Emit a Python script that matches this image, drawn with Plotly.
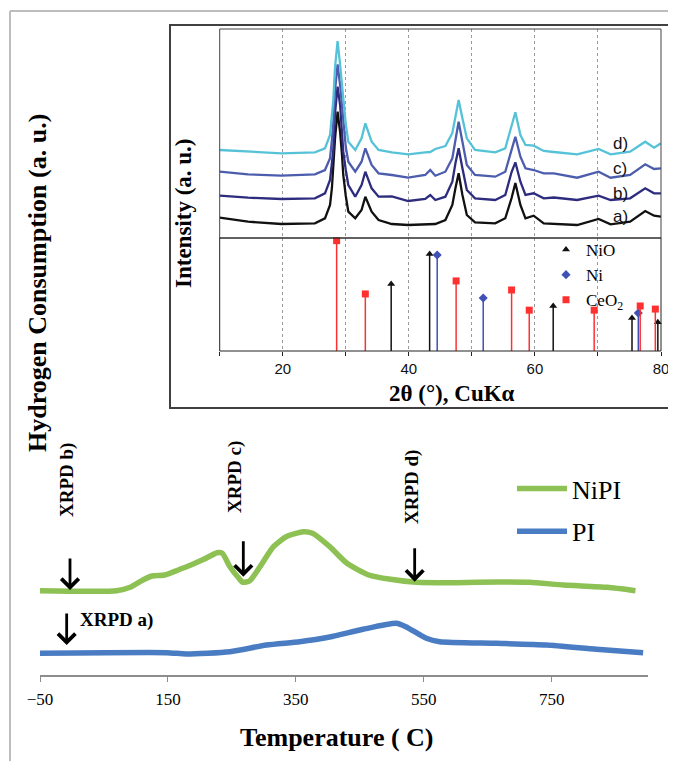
import plotly.graph_objects as go

# ---- main TPR curves (temperature in C, H2 consumption a.u.)
temp_nipi = [-50, 70, 91, 111, 125, 145, 166, 186, 206, 227, 235, 247, 261, 267, 278, 294,
             315, 335, 362, 376, 403, 430, 464, 498, 539, 600, 668, 715, 769, 837, 881]
h2_nipi = [84.3, 84.3, 87.7, 95, 99, 100, 105, 110, 115.7, 122.3, 121.7, 108.3, 96.7, 92.7, 94.3, 108.3,
           128.3, 138.3, 143.3, 141.7, 128.3, 111.7, 100, 95.7, 92.7, 92.3, 93, 92.7, 90, 87.7, 84.3]

temp_pi = [-50, 148, 179, 247, 304, 356, 403, 455, 507, 522, 554, 575, 664, 742, 820, 893]
h2_pi = [21.7, 22.3, 21, 23.3, 30, 33.3, 38, 45.7, 51.7, 48.3, 36.7, 33.3, 31.7, 30, 25.7, 22.3]

# ---- XRPD patterns (2theta, stacked intensity)
two_theta = [10, 14.5, 19.8, 25.1, 26.7, 27.5, 27.8, 28.0, 28.3, 28.7,
             29.1, 29.4, 29.6, 30.0, 30.4, 31.5, 32.5, 33.1, 34.1, 35.2,
             37.3, 39.9, 42.6, 43.4, 44.2, 45.8, 46.9, 47.4, 47.9, 48.5,
             49.2, 50.5, 53.7, 55.3, 56.3, 56.9, 57.7, 58.5, 59.8, 61.4,
             63.0, 66.7, 70.1, 72.0, 75.1, 77.5, 78.9, 80]
xrd_a = [20.3, 16.3, 14, 14.7, 19.7, 33, 50, 73, 100, 126.3,
         106, 83, 63, 42, 26.3, 19.7, 28, 41.3, 26.3, 18,
         14, 13, 13.5, 14, 14, 18, 33, 50, 64.7, 43,
         23, 15.7, 14.7, 19.7, 40, 55, 33, 19.7, 22.3, 14.7,
         14, 13, 19, 13.7, 16.3, 27, 22.3, 21.3]
xrd_b = [42.3, 40.3, 39, 39.7, 44.7, 58, 75, 86.3, 125, 151.3,
         133, 108, 86.3, 68, 53, 41.3, 53, 66.3, 49.7, 41.3,
         41.5, 37, 39, 43, 38, 41.3, 56.3, 75, 89.7, 69.7,
         48, 39.7, 38, 43, 66, 75.7, 56.3, 43, 44.7, 39.7,
         40.5, 38, 42.3, 38, 39.7, 49.7, 44.7, 44.7]
xrd_c = [66.3, 63.7, 62.3, 63.7, 68, 79.7, 98, 113, 148, 173.7,
         153, 131, 113, 91, 76.3, 66.3, 76.3, 89.7, 73, 64.7,
         63, 60.3, 63, 68, 62.3, 66.3, 79.7, 98, 116.3, 96.3,
         73, 63, 61.3, 66.3, 89, 101.3, 81.3, 69.7, 68, 64.7,
         64.7, 60.3, 66.3, 60.3, 63, 73.7, 69, 69.7]
xrd_d = [88, 86.3, 84.7, 85.7, 89.7, 103, 121, 136.3, 171, 197,
         173, 154, 136.3, 114, 96.3, 88, 99.7, 114.7, 96.3, 88,
         85.7, 83.7, 85.7, 86, 89, 92, 105, 121, 138, 119.7,
         99.7, 88, 85.7, 89.7, 113, 125.7, 103, 93, 92.3, 87,
         86, 83.7, 89, 83.7, 86.3, 96.3, 90.3, 94.7]
xrd_labels = ["a)", "b)", "c)", "d)"]
xrd_label_y = [21.3, 44.7, 69.7, 94.7]

# ---- reference patterns (2theta, relative intensity)
nio_pos = [37.2, 43.3, 62.9, 75.4, 79.5]
nio_int = [60.7, 88, 40.8, 30, 26]
ni_pos = [44.5, 51.8, 76.4]
ni_int = [87, 48, 34.5]
ceo2_pos = [28.55, 33.1, 47.5, 56.3, 59.1, 69.4, 76.7, 79.1]
ceo2_int = [100, 51.7, 63.5, 55.3, 37, 37, 40.8, 38]

# page has an 8px body margin, so the figure is a bit smaller than the window
OX, OY = 8, 8
W, H = 668, 753


def px(x):
    return (x - OX) / W


def py(y):
    return 1 - (y - OY) / H


SERIF = "Liberation Serif"
SANS = "Liberation Sans"

fig = go.Figure()

fig.add_trace(go.Scatter(x=temp_nipi, y=h2_nipi, mode="lines", name="NiPI",
                         line=dict(color="#8DC153", width=5.5, shape="spline", smoothing=0.6),
                         legendgroup="g1"))
fig.add_trace(go.Scatter(x=temp_pi, y=h2_pi, mode="lines", name="PI",
                         line=dict(color="#4A7CC3", width=5.5, shape="spline", smoothing=0.6),
                         legendgroup="g2"))

xrd_colors = ["#111111", "#2D2C7E", "#4D5DAE", "#55C2D8"]
for ys, col in zip([xrd_a, xrd_b, xrd_c, xrd_d], xrd_colors):
    fig.add_trace(go.Scatter(x=two_theta, y=ys, mode="lines", line=dict(color=col, width=2.3),
                             xaxis="x2", yaxis="y2", showlegend=False))


def sticks(pos, inten):
    xs, ys = [], []
    for p, v in zip(pos, inten):
        xs += [p, p, None]
        ys += [0, v, None]
    return xs, ys


ref_sets = [("NiO", nio_pos, nio_int, "#111111", "triangle-up"),
            ("Ni", ni_pos, ni_int, "#3F51B5", "diamond"),
            ("CeO<sub>2</sub>", ceo2_pos, ceo2_int, "#FF3030", "square")]
for name, pos, inten, col, sym in ref_sets:
    sx, sy = sticks(pos, inten)
    fig.add_trace(go.Scatter(x=sx, y=sy, mode="lines", line=dict(color=col, width=1.5),
                             xaxis="x2", yaxis="y3", showlegend=False, cliponaxis=False))
    fig.add_trace(go.Scatter(x=pos, y=inten, mode="markers", name=name, legend="legend2",
                             marker=dict(color=col, symbol=sym, size=7), cliponaxis=False,
                             xaxis="x2", yaxis="y3"))

annotations = []
# XRPD arrows on main chart
arrows = [(-3.1, 85, -33), (267.9, 98.3, -37), (535.8, 93.3, -35), (-8.3, 30, -33)]
for ax_, ay_, off in arrows:
    annotations.append(dict(x=ax_, y=ay_, xref="x", yref="y", text="", showarrow=True,
                            ax=0, ay=off, arrowhead=4, arrowsize=1.2, arrowwidth=2.8,
                            arrowcolor="#000000"))
rot_labels = [("XRPD b)", -7.8, 195), ("XRPD c)", 254.9, 198), ("XRPD d)", 531.6, 188)]
for t, x_, y_ in rot_labels:
    annotations.append(dict(x=x_, y=y_, xref="x", yref="y", text="<b>%s</b>" % t, showarrow=False,
                            textangle=-90, font=dict(family=SERIF, size=19, color="#000")))
annotations.append(dict(x=69.9, y=55, xref="x", yref="y", text="<b>XRPD a)</b>", showarrow=False,
                        font=dict(family=SERIF, size=19, color="#000")))

# axis titles
titles = [("<b>Temperature ( C)</b>", 337, 737, 0, 26),
          ("<b>Hydrogen Consumption (a. u.)</b>", 37, 283, -90, 26),
          ("<b>Intensity (a. u.)</b>", 184, 213, -90, 23),
          ("<b>2θ (°), CuKα</b>", 452, 393, 0, 23)]
for t, x_, y_, ang, sz in titles:
    annotations.append(dict(x=px(x_), y=py(y_), xref="paper", yref="paper", showarrow=False,
                            xanchor="center", yanchor="middle", textangle=ang, text=t,
                            font=dict(family=SERIF, size=sz, color="#000")))
for lab, yv in zip(xrd_labels, xrd_label_y):
    annotations.append(dict(x=73.5, y=yv, xref="x2", yref="y2", text=lab, showarrow=False,
                            font=dict(family=SANS, size=17, color="#111")))

shapes = [
    dict(type="line", xref="paper", yref="paper", x0=px(10), x1=1, y0=py(11), y1=py(11),
         line=dict(color="#BDBDBD", width=2)),
    dict(type="line", xref="paper", yref="paper", x0=px(10), x1=px(10), y0=py(11), y1=0,
         line=dict(color="#BDBDBD", width=2)),
    dict(type="rect", xref="paper", yref="paper", x0=px(170), x1=px(669), y0=py(408), y1=py(25),
         line=dict(color="#404040", width=2), layer="below"),
    dict(type="rect", xref="x2 domain", yref="y2 domain", x0=0, x1=1, y0=0, y1=1,
         line=dict(color="#444", width=1), layer="above"),
    dict(type="rect", xref="x2 domain", yref="y3 domain", x0=0, x1=1, y0=0, y1=1,
         line=dict(color="#222", width=1), layer="above"),
]

fig.update_layout(
    width=W, height=H,
    margin=dict(l=0, r=0, t=0, b=0, autoexpand=False),
    paper_bgcolor="white", plot_bgcolor="rgba(0,0,0,0)",
    xaxis=dict(domain=[px(40), px(647.6)], range=[-50, 900], tick0=-50, dtick=200,
               showline=True, linecolor="#8C8C8C", linewidth=1.5, ticks="outside", ticklen=5,
               tickcolor="#8C8C8C", showgrid=False, zeroline=False, anchor="y",
               tickfont=dict(family=SERIF, size=17, color="#000"), ticklabelstandoff=3),
    yaxis=dict(domain=[py(675), py(440)], range=[0, 235], visible=False, anchor="x"),
    xaxis2=dict(domain=[px(219.7), px(661)], range=[10, 80], anchor="y3",
                tickvals=[10, 20, 30, 40, 50, 60, 70, 80],
                ticktext=["", "20", "", "40", "", "60", "", "80"],
                showgrid=True, gridcolor="#9A9A9A", griddash="dot", gridwidth=1,
                ticks="outside", ticklen=4, tickcolor="#222", showline=False, zeroline=False,
                tickfont=dict(family=SANS, size=15, color="#111")),
    yaxis2=dict(domain=[py(238), py(29)], range=[0, 209], visible=False, anchor="x2"),
    yaxis3=dict(domain=[py(351), py(238)], range=[0, 102.4], visible=False, anchor="x2"),
    legend=dict(x=px(512), y=py(465), xanchor="left", yanchor="top", bgcolor="rgba(0,0,0,0)",
                font=dict(family=SERIF, size=26, color="#000"), tracegroupgap=6, itemwidth=50),
    legend2=dict(x=px(546), y=py(232), xanchor="left", yanchor="top", bgcolor="rgba(0,0,0,0)",
                 font=dict(family=SERIF, size=17, color="#000"), tracegroupgap=0),
    annotations=annotations,
    shapes=shapes,
)

fig.write_html("out.html")
